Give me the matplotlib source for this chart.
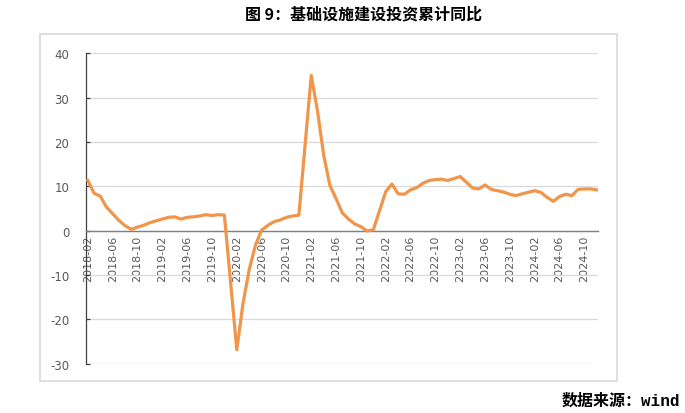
import numpy as np
import pandas as pd
import matplotlib
matplotlib.use("Agg")
import matplotlib.pyplot as plt
from matplotlib.patches import Rectangle

nan = np.nan

# monthly categories 2018-02 .. 2024-12 (no January release, left as NaN)
months = [p.strftime("%Y-%m") for p in pd.period_range("2018-02", "2024-12", freq="M")]

infra_2018 = [11.3, 8.4, 7.8, 5.3, 3.8, 2.3, 1.1, 0.3, 0.8, 1.2, 1.8]
infra_2019 = [nan, 2.6, 3.0, 3.1, 2.6, 3.0, 3.1, 3.3, 3.6, 3.4, 3.6, 3.5]
infra_2020 = [nan, -26.9, -16.4, -8.8, -3.3, 0.1, 1.2, 2.0, 2.4, 3.0, 3.3, 3.5]
infra_2021 = [nan, 35.0, 27.0, 17.0, 10.2, 7.2, 4.0, 2.6, 1.5, 0.9, -0.1, 0.2]
infra_2022 = [nan, 8.8, 10.5, 8.3, 8.2, 9.2, 9.7, 10.7, 11.3, 11.5, 11.6, 11.3]
infra_2023 = [nan, 12.2, 10.9, 9.6, 9.4, 10.3, 9.3, 9.0, 8.7, 8.2, 7.9, 8.3]
infra_2024 = [nan, 9.0, 8.6, 7.5, 6.6, 7.7, 8.2, 7.9, 9.3, 9.4, 9.4, 9.2]

values = np.array(infra_2018 + infra_2019 + infra_2020 + infra_2021
                  + infra_2022 + infra_2023 + infra_2024)

yticks = [-30, -20, -10, 0, 10, 20, 30, 40]
label_step = 4

title = "图 9：基础设施建设投资累计同比"
source = "数据来源：wind"

W, H = 685, 414
fig = plt.figure(figsize=(W / 100, H / 100), dpi=100)

# light grey frame around the chart area
fig.patches.append(Rectangle((40 / W, 1 - 381.7 / H), 577 / W, 347 / H,
                             transform=fig.transFigure, fill=False,
                             edgecolor="#D9D9D9", lw=1.2))

ax = fig.add_axes([86 / W, 1 - 364.6 / H, 512 / W, 310.3 / H])

# spine position first: moving it resets the tick label styling
ax.spines["top"].set_visible(False)
ax.spines["right"].set_visible(False)
ax.spines["bottom"].set_position(("data", 0))
ax.spines["bottom"].set_color("#808080")
ax.spines["bottom"].set_linewidth(1.0)
ax.spines["left"].set_color("#404040")
ax.spines["left"].set_linewidth(0.9)

x = np.arange(len(values))
ok = ~np.isnan(values)
ax.plot(x[ok], values[ok], color="#F0954A", lw=2.3, solid_joinstyle="round",
        zorder=3)

ax.set_xlim(-0.3, len(values) - 1 + 0.2)
ax.set_ylim(-30, 40)
ax.set_yticks(yticks)
ax.set_yticklabels([str(v) for v in yticks])
ax.yaxis.grid(True, color="#D9D9D9", lw=0.9)
ax.set_axisbelow(True)

ax.set_xticks(x[::label_step])
ax.set_xticklabels(months[::label_step], rotation=90, va="top", ha="center")

ax.tick_params(axis="x", length=0, pad=3, labelsize=8, labelcolor="#595959")
ax.tick_params(axis="y", direction="in", length=3, width=0.9, color="#404040",
               pad=12, labelsize=8.5, labelcolor="#595959")

fig.text(364 / W, 1 - 14 / H, title, ha="center", va="center", fontsize=11.5,
         fontweight="bold", family=["Noto Sans CJK SC", "DejaVu Sans"])
fig.text(680 / W, 1 - 401.5 / H, source, ha="right", va="center", fontsize=11.5,
         fontweight="bold", family=["Liberation Mono", "Noto Sans CJK SC"])

fig.savefig("out.png", dpi=100)
